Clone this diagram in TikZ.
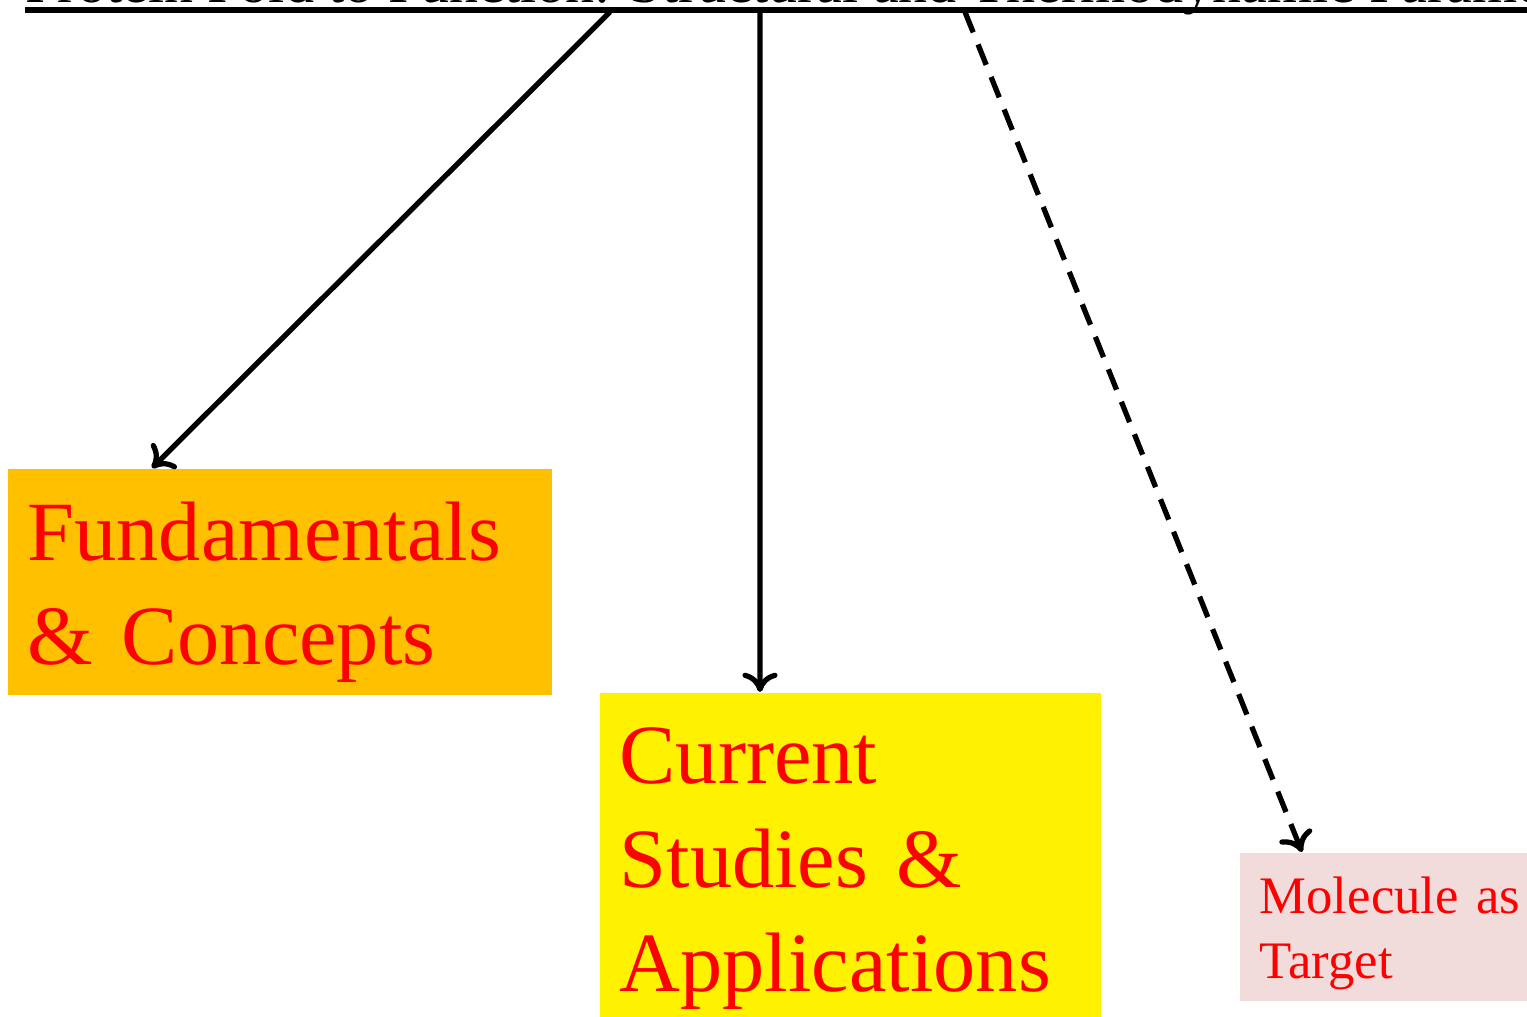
\documentclass[tikz,border=0pt]{standalone}
\usepackage{fontspec}
\setmainfont{Liberation Serif}
\usepackage{tikz}
\usetikzlibrary{positioning,arrows.meta}

\definecolor{fundorange}{RGB}{255,192,0}
\definecolor{molpink}{RGB}{242,219,219}

\begin{document}
\begin{tikzpicture}
        \tikzstyle{topic}=[anchor=north west, text=red, align=left, inner xsep=0.2cm, inner ysep=0pt, font=\fontsize{24}{29.5}\selectfont]
        \tikzstyle{link}=[-{To[length=5.5pt,width=10pt]}, line width=1.5pt]

        \useasboundingbox (0,0) rectangle (15.27,10.17);
        \clip (0,0) rectangle (15.27,10.17);

        % title, cut off by the page
        \node   (title) [anchor=base west, inner sep=0pt, font=\fontsize{16.5}{20}\selectfont] at (0.25,10.14)
            {Protein Fold to Function: Structural and Thermodynamic Parameters};
        \draw[line width=1.6pt] ([yshift=-0.07cm]title.base west) -- ([yshift=-0.07cm]title.base east);

        % boxes
        \node   (fund) [topic, fill=fundorange, text width=5.04cm, minimum width=5.44cm, text height=0.92cm, text depth=1.34cm] at (0.07,5.49)
            {Fundamentals\\\& Concepts};
        \node   (curr) [topic, fill=yellow, text width=4.61cm, minimum width=5.01cm, text height=0.91cm, text depth=2.36cm] at (5.99,3.25)
            {Current\\Studies \&\\Applications};
        \node   (mol)  [topic, fill=molpink, text width=3.0cm, minimum width=3.4cm, text height=0.61cm, text depth=0.87cm, inner xsep=0.19cm, font=\fontsize{15}{18.5}\selectfont] at (12.39,1.65)
            {Molecule as\\Target};

        % connectors
        \coordinate (c1) at (6.10,10.05);
        \coordinate (c2) at (7.60,10.05);
        \coordinate (c3) at (9.65,10.05);
        \draw[link] (c1) -- ([xshift=1.45cm]fund.north west);
        \draw[link] (c2) -- ([xshift=1.61cm]curr.north west);
        \draw[link, dash pattern=on 0.22cm off 0.13cm] (c3) -- ([xshift=0.63cm]mol.north west);

\end{tikzpicture}
\end{document}
